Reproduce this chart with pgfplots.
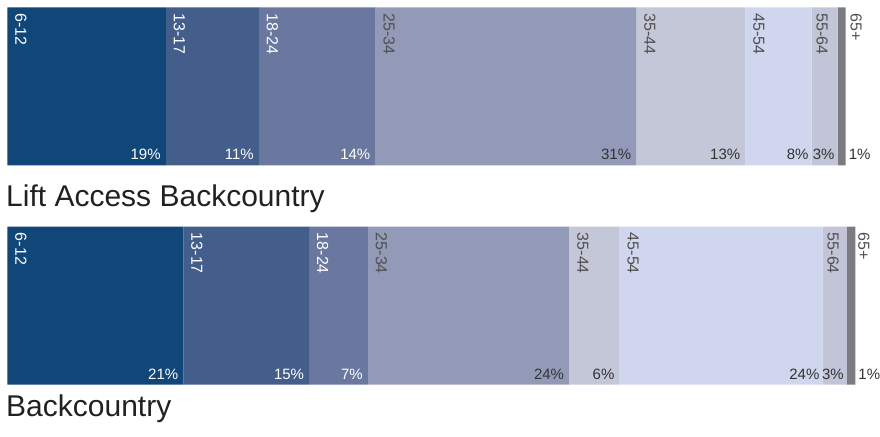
\documentclass[border=0pt]{standalone}
\usepackage{fontspec}
\setmainfont{Liberation Sans}
\usepackage{pgfplots}
\pgfplotsset{compat=1.18}
\definecolor{c1}{HTML}{104678}
\definecolor{c2}{HTML}{445E8C}
\definecolor{c3}{HTML}{6A779F}
\definecolor{c4}{HTML}{929AB8}
\definecolor{c5}{HTML}{C4C7D8}
\definecolor{c6}{HTML}{D0D6ED}
\definecolor{c7}{HTML}{C2C5D7}
\definecolor{c8}{HTML}{7B7C80}
\definecolor{lbl}{HTML}{505050}
\definecolor{pct}{HTML}{333333}
\definecolor{ttl}{HTML}{212121}
\tikzset{cat/.style={rotate=-90, anchor=base west, inner sep=0pt, font=\fontsize{16bp}{19bp}\selectfont},
         pc/.style={anchor=base east, inner sep=0pt, font=\fontsize{15bp}{18bp}\selectfont}}
\begin{document}
\begin{tikzpicture}
\begin{axis}[
  hide axis, clip=false,
  x=8.387bp, y=1bp,
  xmin=-0.87, xmax=104.05, ymin=0, ymax=436,
  xbar stacked, bar width=158,
]
% values (percent) : top bar = Lift Access Backcountry, bottom bar = Backcountry
\addplot[fill=c1, draw=none] coordinates {(18.9,349.5) (21.0,130.3)};
\addplot[fill=c2, draw=none] coordinates {(11.1,349.5) (15.0,130.3)};
\addplot[fill=c3, draw=none] coordinates {(13.9,349.5) (7.0,130.3)};
\addplot[fill=c4, draw=none] coordinates {(31.1,349.5) (24.0,130.3)};
\addplot[fill=c5, draw=none] coordinates {(13.0,349.5) (6.0,130.3)};
\addplot[fill=c6, draw=none] coordinates {(7.9,349.5) (24.2,130.3)};
\addplot[fill=c7, draw=none] coordinates {(3.1,349.5) (2.9,130.3)};
\addplot[fill=c8, draw=none] coordinates {(0.95,349.5) (1.0,130.3)};

% segment boundaries (cumulative sums), at bar tops (A) and bar bottoms (B)
\coordinate (TA0) at (axis cs:0,428.7);    \coordinate (TB0) at (axis cs:0,270.3);
\coordinate (TA1) at (axis cs:18.9,428.7); \coordinate (TB1) at (axis cs:18.9,270.3);
\coordinate (TA2) at (axis cs:30.0,428.7); \coordinate (TB2) at (axis cs:30.0,270.3);
\coordinate (TA3) at (axis cs:43.9,428.7); \coordinate (TB3) at (axis cs:43.9,270.3);
\coordinate (TA4) at (axis cs:75.0,428.7); \coordinate (TB4) at (axis cs:75.0,270.3);
\coordinate (TA5) at (axis cs:88.0,428.7); \coordinate (TB5) at (axis cs:88.0,270.3);
\coordinate (TA6) at (axis cs:95.9,428.7); \coordinate (TB6) at (axis cs:95.9,270.3);
\coordinate (TA7) at (axis cs:99.0,428.7); \coordinate (TB7) at (axis cs:99.0,270.3);
\coordinate (TA8) at (axis cs:99.95,428.7); \coordinate (TB8) at (axis cs:99.95,270.3);
\coordinate (BA0) at (axis cs:0,209.3);     \coordinate (BB0) at (axis cs:0,51.3);
\coordinate (BA1) at (axis cs:21.0,209.3);  \coordinate (BB1) at (axis cs:21.0,51.3);
\coordinate (BA2) at (axis cs:36.0,209.3);  \coordinate (BB2) at (axis cs:36.0,51.3);
\coordinate (BA3) at (axis cs:43.0,209.3);  \coordinate (BB3) at (axis cs:43.0,51.3);
\coordinate (BA4) at (axis cs:67.0,209.3);  \coordinate (BB4) at (axis cs:67.0,51.3);
\coordinate (BA5) at (axis cs:73.0,209.3);  \coordinate (BB5) at (axis cs:73.0,51.3);
\coordinate (BA6) at (axis cs:97.2,209.3);  \coordinate (BB6) at (axis cs:97.2,51.3);
\coordinate (BA7) at (axis cs:100.1,209.3); \coordinate (BB7) at (axis cs:100.1,51.3);
\coordinate (BA8) at (axis cs:101.1,209.3); \coordinate (BB8) at (axis cs:101.1,51.3);
\coordinate (L1) at (axis cs:-0.155,229);
\coordinate (L2) at (axis cs:-0.155,19.3);
\end{axis}

% category labels
\node[cat, text=white] at ([xshift=8bp, yshift=-6bp]TA0) {6-12};
\node[cat, text=white] at ([xshift=8bp, yshift=-6bp]TA1) {13-17};
\node[cat, text=white] at ([xshift=8bp, yshift=-6bp]TA2) {18-24};
\node[cat, text=lbl] at ([xshift=8bp, yshift=-6bp]TA3) {25-34};
\node[cat, text=lbl] at ([xshift=8bp, yshift=-6bp]TA4) {35-44};
\node[cat, text=lbl] at ([xshift=8bp, yshift=-6bp]TA5) {45-54};
\node[cat, text=lbl] at ([xshift=5bp, yshift=-6bp]TA6) {55-64};
\node[cat, text=lbl] at ([xshift=5bp, yshift=-6bp]TA8) {65+};

\node[cat, text=white] at ([xshift=8bp, yshift=-6bp]BA0) {6-12};
\node[cat, text=white] at ([xshift=8bp, yshift=-6bp]BA1) {13-17};
\node[cat, text=white] at ([xshift=8bp, yshift=-6bp]BA2) {18-24};
\node[cat, text=lbl] at ([xshift=8bp, yshift=-6bp]BA3) {25-34};
\node[cat, text=lbl] at ([xshift=8bp, yshift=-6bp]BA4) {35-44};
\node[cat, text=lbl] at ([xshift=8bp, yshift=-6bp]BA5) {45-54};
\node[cat, text=lbl] at ([xshift=5bp, yshift=-6bp]BA6) {55-64};
\node[cat, text=lbl] at ([xshift=3bp, yshift=-6bp]BA8) {65+};

% percentage labels
\node[pc, text=white] at ([xshift=-5bp, yshift=5.7bp]TB1) {19\%};
\node[pc, text=white] at ([xshift=-5bp, yshift=5.7bp]TB2) {11\%};
\node[pc, text=white] at ([xshift=-5bp, yshift=5.7bp]TB3) {14\%};
\node[pc, text=pct] at ([xshift=-5bp, yshift=5.7bp]TB4) {31\%};
\node[pc, text=pct] at ([xshift=-5bp, yshift=5.7bp]TB5) {13\%};
\node[pc, text=pct] at ([xshift=-3bp, yshift=5.7bp]TB6) {8\%};
\node[pc, text=pct] at ([xshift=-3bp, yshift=5.7bp]TB7) {3\%};
\node[pc, text=pct, anchor=base west] at ([xshift=3bp, yshift=5.7bp]TB8) {1\%};

\node[pc, text=white] at ([xshift=-5bp, yshift=5.7bp]BB1) {21\%};
\node[pc, text=white] at ([xshift=-5bp, yshift=5.7bp]BB2) {15\%};
\node[pc, text=white] at ([xshift=-5bp, yshift=5.7bp]BB3) {7\%};
\node[pc, text=pct] at ([xshift=-5bp, yshift=5.7bp]BB4) {24\%};
\node[pc, text=pct] at ([xshift=-5bp, yshift=5.7bp]BB5) {6\%};
\node[pc, text=pct] at ([xshift=-3bp, yshift=5.7bp]BB6) {24\%};
\node[pc, text=pct] at ([xshift=-3bp, yshift=5.7bp]BB7) {3\%};
\node[pc, text=pct, anchor=base west] at ([xshift=3bp, yshift=5.7bp]BB8) {1\%};

\node[anchor=base west, inner sep=0pt, font=\fontsize{30bp}{36bp}\selectfont, text=ttl] at (L1) {Lift Access Backcountry};
\node[anchor=base west, inner sep=0pt, font=\fontsize{30bp}{36bp}\selectfont, text=ttl] at (L2) {Backcountry};

\pgfresetboundingbox
\useasboundingbox (current axis.south west) rectangle (current axis.north east);
\end{tikzpicture}
\end{document}
